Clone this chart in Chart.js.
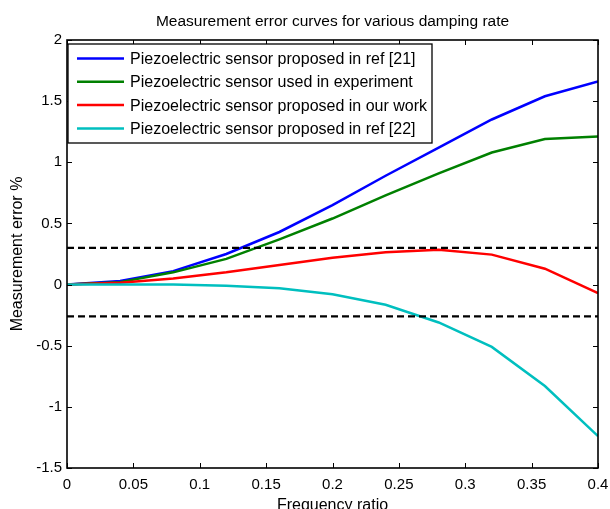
<!DOCTYPE html>
<html>
<head>
<meta charset="utf-8">
<script src="https://cdn.jsdelivr.net/npm/chart.js@4/dist/chart.umd.min.js"></script>
<style>
    html, body { margin: 0; padding: 0; background: #fff; }
    #wrap { width: 610px; height: 509px; }
</style>
</head>
<body>
<div id="wrap"><canvas id="chart" width="610" height="509"></canvas></div>
<script>
// frequency ratio samples
const freqRatio = [0, 0.04, 0.08, 0.12, 0.16, 0.2, 0.24, 0.28, 0.32, 0.36, 0.4];

// measurement error (%) per sensor
const ref21Error = [0, 0.03, 0.11, 0.25, 0.43, 0.65, 0.89, 1.12, 1.35, 1.54, 1.66];
const experimentError = [0, 0.02, 0.10, 0.21, 0.37, 0.54, 0.73, 0.91, 1.08, 1.19, 1.21];
const ourWorkError = [0, 0.015, 0.05, 0.10, 0.16, 0.22, 0.265, 0.285, 0.245, 0.13, -0.07];
const ref22Error = [0, 0, 0, -0.01, -0.03, -0.08, -0.165, -0.31, -0.51, -0.83, -1.24];

// tolerance band (dashed lines)
const upperLimit = 0.3;
const lowerLimit = -0.26;

const xTicks = [0, 0.05, 0.1, 0.15, 0.2, 0.25, 0.3, 0.35, 0.4];
const xTickLabels = ["0", "0.05", "0.1", "0.15", "0.2", "0.25", "0.3", "0.35", "0.4"];
const yTicks = [-1.5, -1, -0.5, 0, 0.5, 1, 1.5, 2];
const yTickLabels = ["-1.5", "-1", "-0.5", "0", "0.5", "1", "1.5", "2"];

const FONT = "'Liberation Sans', Arial, Helvetica, sans-serif";

function toPoints(xs, ys) {
    return xs.map(function (x, i) {
        return { x: x, y: ys[i] };
    });
}

function curve(label, values, color, order) {
    return {
        label: label,
        data: toPoints(freqRatio, values),
        borderColor: color,
        backgroundColor: color,
        borderWidth: 2.5,
        pointRadius: 0,
        tension: 0,
        order: order,
    };
}

function limitLine(value, order) {
    return {
        label: "",
        data: toPoints([xTicks[0], xTicks[xTicks.length - 1]], [value, value]),
        borderColor: "#000",
        borderWidth: 2.2,
        borderDash: [7, 4],
        pointRadius: 0,
        order: order,
        isLimit: true,
    };
}

// box + inward tick marks like matlab
const framePlugin = {
    id: "frame",
    afterDatasetsDraw: function (chart) {
        var ctx = chart.ctx;
        var a = chart.chartArea;
        var xs = chart.scales.x;
        var ys = chart.scales.y;
        var len = 5;
        ctx.save();
        ctx.strokeStyle = "#000";
        ctx.lineWidth = 1.6;
        ctx.strokeRect(a.left, a.top, a.right - a.left, a.bottom - a.top);
        ctx.lineWidth = 1;
        ctx.beginPath();
        xs.ticks.forEach(function (t) {
            var px = Math.round(xs.getPixelForValue(t.value)) + 0.5;
            ctx.moveTo(px, a.bottom);
            ctx.lineTo(px, a.bottom - len);
            ctx.moveTo(px, a.top);
            ctx.lineTo(px, a.top + len);
        });
        ys.ticks.forEach(function (t) {
            var py = Math.round(ys.getPixelForValue(t.value)) + 0.5;
            ctx.moveTo(a.left, py);
            ctx.lineTo(a.left + len, py);
            ctx.moveTo(a.right, py);
            ctx.lineTo(a.right - len, py);
        });
        ctx.stroke();
        ctx.restore();
    },
};

// legend box inside the plot, top-left
const boxLegendPlugin = {
    id: "boxLegend",
    afterDraw: function (chart) {
        var ctx = chart.ctx;
        var a = chart.chartArea;
        var items = chart.data.datasets.filter(function (d) {
            return !d.isLimit;
        });
        var left = a.left + 1;
        var top = a.top + 4;
        var w = 364;
        var h = 99;
        ctx.save();
        ctx.fillStyle = "#fff";
        ctx.fillRect(left, top, w, h);
        ctx.strokeStyle = "#000";
        ctx.lineWidth = 1.3;
        ctx.strokeRect(left, top, w, h);
        ctx.font = "16px " + FONT;
        ctx.textBaseline = "middle";
        ctx.textAlign = "left";
        items.forEach(function (d, i) {
            var y = top + 14.5 + i * 23.3;
            ctx.strokeStyle = d.borderColor;
            ctx.lineWidth = 2.5;
            ctx.beginPath();
            ctx.moveTo(left + 9, y);
            ctx.lineTo(left + 56, y);
            ctx.stroke();
            ctx.fillStyle = "#000";
            ctx.fillText(d.label, left + 62, y + 1);
        });
        ctx.restore();
    },
};

var ctx = document.getElementById("chart").getContext("2d");
var myChart = new Chart(ctx, {
    type: "line",
    data: {
        datasets: [
            curve("Piezoelectric sensor proposed in ref [21]", ref21Error, "#0000ff", 6),
            curve("Piezoelectric sensor used in experiment", experimentError, "#008000", 5),
            curve("Piezoelectric sensor proposed in our work", ourWorkError, "#ff0000", 4),
            curve("Piezoelectric sensor proposed in ref [22]", ref22Error, "#00bfbf", 3),
            limitLine(upperLimit, 2),
            limitLine(lowerLimit, 1),
        ],
    },
    options: {
        responsive: false,
        animation: false,
        layout: {
            padding: { left: 0, right: 12, top: 0, bottom: 0 },
        },
        plugins: {
            legend: { display: false },
            tooltip: { enabled: false },
            title: {
                display: true,
                fullSize: false,
                text: "Measurement error curves for various damping rate",
                color: "#000",
                font: { family: FONT, size: 15.5, weight: "normal", lineHeight: 1.2 },
                padding: { top: 12.5, bottom: 8.9 },
            },
        },
        scales: {
            x: {
                type: "linear",
                min: 0,
                max: 0.4,
                grid: { display: false, drawTicks: false },
                border: { display: false },
                afterBuildTicks: function (scale) {
                    scale.ticks = xTicks.map(function (v) {
                        return { value: v };
                    });
                },
                afterFit: function (scale) {
                    scale.height = 41;
                    scale.paddingLeft = 0;
                    scale.paddingRight = 0;
                },
                ticks: {
                    color: "#000",
                    padding: 8,
                    maxRotation: 0,
                    autoSkip: false,
                    font: { family: FONT, size: 15 },
                    callback: function (value, index) {
                        return xTickLabels[index];
                    },
                },
                title: {
                    display: true,
                    text: "Frequency ratio",
                    color: "#000",
                    font: { family: FONT, size: 16, lineHeight: 1 },
                    padding: { top: 0, bottom: -4.5 },
                },
            },
            y: {
                type: "linear",
                min: -1.5,
                max: 2,
                grid: { display: false, drawTicks: false },
                border: { display: false },
                afterBuildTicks: function (scale) {
                    scale.ticks = yTicks.map(function (v) {
                        return { value: v };
                    });
                },
                afterFit: function (scale) {
                    scale.width = 67;
                },
                ticks: {
                    color: "#000",
                    padding: 5,
                    autoSkip: false,
                    font: { family: FONT, size: 15 },
                    callback: function (value, index) {
                        return yTickLabels[index];
                    },
                },
                title: {
                    display: true,
                    text: "Measurement error %",
                    color: "#000",
                    font: { family: FONT, size: 16, lineHeight: 1 },
                    padding: { top: 10, bottom: 0 },
                },
            },
        },
    },
    plugins: [framePlugin, boxLegendPlugin],
});
</script>
</body>
</html>
